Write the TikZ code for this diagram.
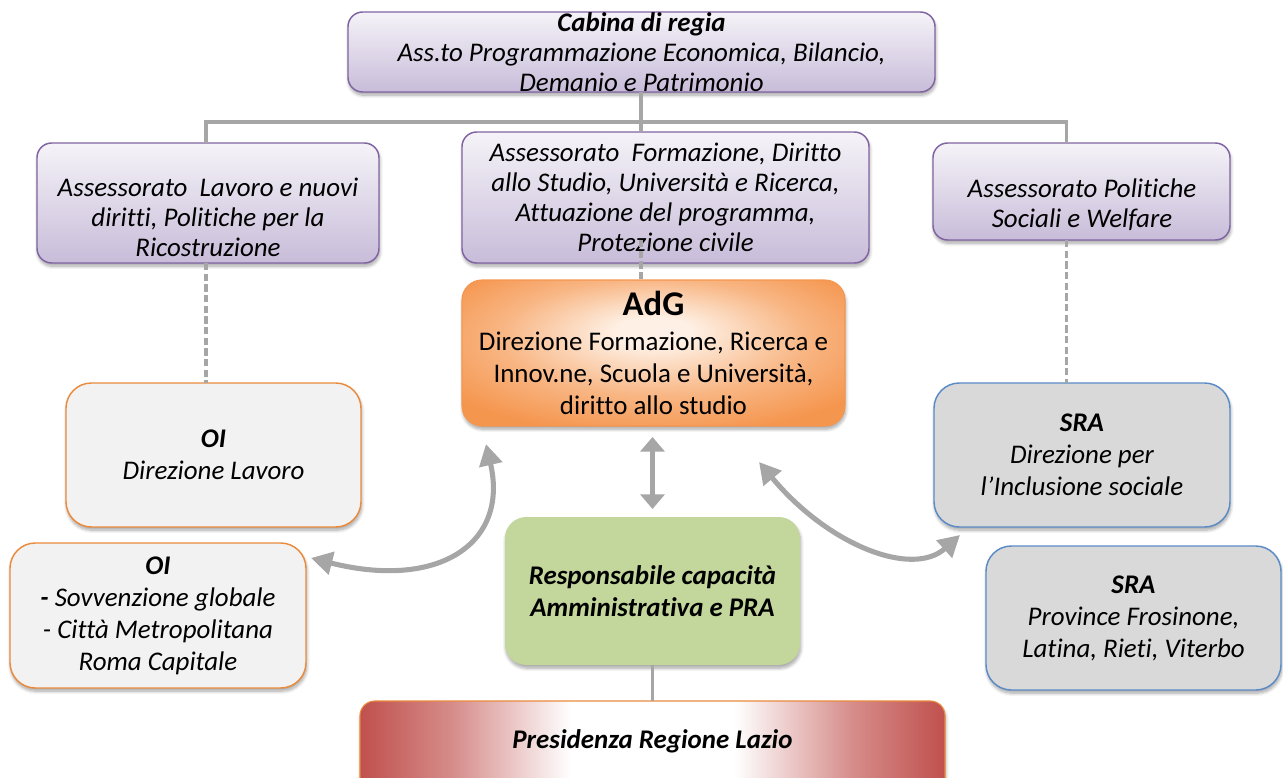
\documentclass[tikz,border=0pt]{standalone}
\usepackage{fontspec}
\setmainfont{Carlito}[Ligatures=NoCommon]
\usetikzlibrary{arrows.meta,shadows.blur,calc}

\definecolor{lilacline}{HTML}{8064A2}
\definecolor{lilactop}{HTML}{F5F3F8}
\definecolor{lilacbot}{HTML}{C8BCD9}
\definecolor{orangeline}{HTML}{E98A3C}
\definecolor{adgout}{HTML}{F5964F}
\definecolor{adgin}{HTML}{FEF0E4}
\definecolor{oifill}{HTML}{F2F2F2}
\definecolor{srafill}{HTML}{D9D9D9}
\definecolor{sraline}{HTML}{5B8BC6}
\definecolor{greenfill}{HTML}{C3D69B}
\definecolor{presred}{HTML}{C0504D}
\definecolor{linkgray}{HTML}{A6A6A6}

% soft glow of the AdG box, lighter towards the upper middle
\pgfdeclareradialshading{adgshade}{\pgfpoint{0bp}{8bp}}{%
  color(0bp)=(adgin); color(5bp)=(adgin); color(20bp)=(adgout!65!adgin);
  color(32bp)=(adgout); color(60bp)=(adgout)}
% red edges fading to white in the middle
\pgfdeclarehorizontalshading{presshade}{100bp}{%
  color(0bp)=(presred); color(25bp)=(presred); color(33bp)=(presred!65!white);
  color(43bp)=(white); color(57bp)=(white); color(67bp)=(presred!65!white);
  color(75bp)=(presred); color(100bp)=(presred)}

\newcommand\txtA{\fontsize{20.2}{22.5}\selectfont}
\newcommand\txtB{\fontsize{20.2}{24}\selectfont}

\tikzset{
  wh/.style 2 args={minimum width=#1*0.75pt, minimum height=#2*0.75pt},
  softshadow/.style={blur shadow={shadow xshift=0.6pt, shadow yshift=-2.4pt,
      shadow blur radius=2.4pt, shadow blur steps=8, shadow opacity=35}},
  basebox/.style={inner sep=0pt, outer sep=0pt, align=center, softshadow},
  lilacbox/.style={basebox, rounded corners=11pt, draw=lilacline, line width=1.1pt,
      top color=lilactop, bottom color=lilacbot, font=\txtA\itshape},
  lilactext/.style={inner sep=0pt, align=center, font=\txtA\itshape},
  adgbox/.style={basebox, rounded corners=15pt, draw=adgout, line width=0.8pt,
      shading=adgshade, font=\txtB\upshape},
  oibox/.style={basebox, rounded corners=19pt, draw=orangeline, line width=1.1pt,
      fill=oifill, font=\txtB\itshape},
  srabox/.style={basebox, rounded corners=19pt, draw=sraline, line width=1.1pt,
      fill=srafill, font=\txtB\itshape},
  greenbox/.style={basebox, rounded corners=16pt, fill=greenfill,
      font=\txtB\itshape\bfseries},
  presbox/.style={basebox, rounded corners=11pt, draw=orangeline, line width=0.8pt,
      shading=presshade},
  link/.style={draw=linkgray, line width=2.3pt},
  dashlink/.style={draw=linkgray, line width=2.3pt, dash pattern=on 5.5pt off 2.5pt},
  bigarrow/.style={draw=linkgray, line width=3.8pt,
      {Triangle[length=16pt,width=17pt]}-{Triangle[length=16pt,width=17pt]}},
  shortarrow/.style={draw=linkgray, line width=4pt,
      {Triangle[length=11pt,width=18pt]}-{Triangle[length=11pt,width=18pt]}}
}

\begin{document}
\begin{tikzpicture}[x=0.75pt, y=-0.75pt]
\useasboundingbox (0,0) rectangle (1283,778);

% top level
\node[lilacbox, wh={587}{80}] (cab) at (641.5,52)
  {\textbf{Cabina di regia}\\Ass.to Programmazione Economica, Bilancio,\\Demanio e Patrimonio};

% assessorati
\node[lilacbox, wh={342}{120}] (lav) at (208,203) {};
\node[lilactext] (lavt) at (208,217)
  {Assessorato~ Lavoro e nuovi\\diritti, Politiche per la\\Ricostruzione};
\node[lilacbox, wh={407}{131}] (form) at (665.5,197.5)
  {Assessorato~ Formazione, Diritto\\allo Studio, Università e Ricerca,\\Attuazione del programma,\\Protezione civile};
\node[lilacbox, wh={297}{97}] (pol) at (1081.5,191.5) {};
\node[lilactext] (polt) at (1082,205)
  {Assessorato Politiche\\Sociali e Welfare};

% managing authority
\node[adgbox, wh={383}{146}] (adg) at (653.5,353)
  {{\fontsize{26}{28}\selectfont\bfseries AdG}\\[2pt]Direzione Formazione, Ricerca e\\Innov.ne, Scuola e Università,\\diritto allo studio};

% intermediate bodies
\node[oibox, wh={295}{144}] (oi1) at (213.5,455)
  {\textbf{OI}\\Direzione Lavoro};
\node[oibox, wh={296}{145}] (oi2) at (158,615.5)
  {\textbf{OI}\\\textbf{-} Sovvenzione globale\\- Città Metropolitana\\Roma Capitale};

% SRA
\node[srabox, wh={296}{144}] (sra1) at (1082,455)
  {\textbf{SRA}\\Direzione per\\l’Inclusione sociale};
\node[srabox, wh={295}{144}] (sra2) at (1133.5,618)
  {\textbf{SRA}\\Province Frosinone,\\Latina, Rieti, Viterbo};

% administrative capacity
\node[greenbox, wh={295}{148}] (resp) at (652.5,591)
  {Responsabile capacità\\Amministrativa e PRA};

% presidency
\node[presbox, wh={585}{100}] (pres) at (652.5,751) {};
\node[inner sep=0pt, font=\txtA\itshape\bfseries] (prest) at (652.5,741)
  {Presidenza Regione Lazio};

% tree under the steering room
\coordinate (bus) at (641,122);
\coordinate (lavx) at ([xshift=-1.5pt]lav.north);
\coordinate (polx) at ([xshift=-11.25pt]pol.north);
\draw[link] (cab.south -| bus) -- (bus);
\draw[link] (lavx) |- (bus) -| (polx);
\draw[link] (bus) -- (bus |- form.north);

% dashed dependencies
\draw[dashlink] (lav.south -| lavx) -- (oi1.north -| lavx);
\draw[dashlink] (pol.south -| polx) -- (sra1.north -| polx);
\draw[dashlink] ([yshift=17.25pt]form.south -| bus) -- (adg.north -| bus);

% presidency link
\draw[link] (resp.south) -- (pres.north);

% exchanges with the managing authority
\draw[shortarrow, shorten <=8.25pt, shorten >=6pt] (resp.north |- adg.south) -- (resp.north);
\coordinate (la) at (311,558);
\coordinate (lb) at (486,444);
\draw[bigarrow] (la) .. controls (438,590) and (509,544) .. (lb);
\coordinate (ra) at (759,462);
\coordinate (rb) at (960,535);
\draw[bigarrow] (ra) .. controls (828,545) and (912,578) .. (rb);
\end{tikzpicture}
\end{document}
